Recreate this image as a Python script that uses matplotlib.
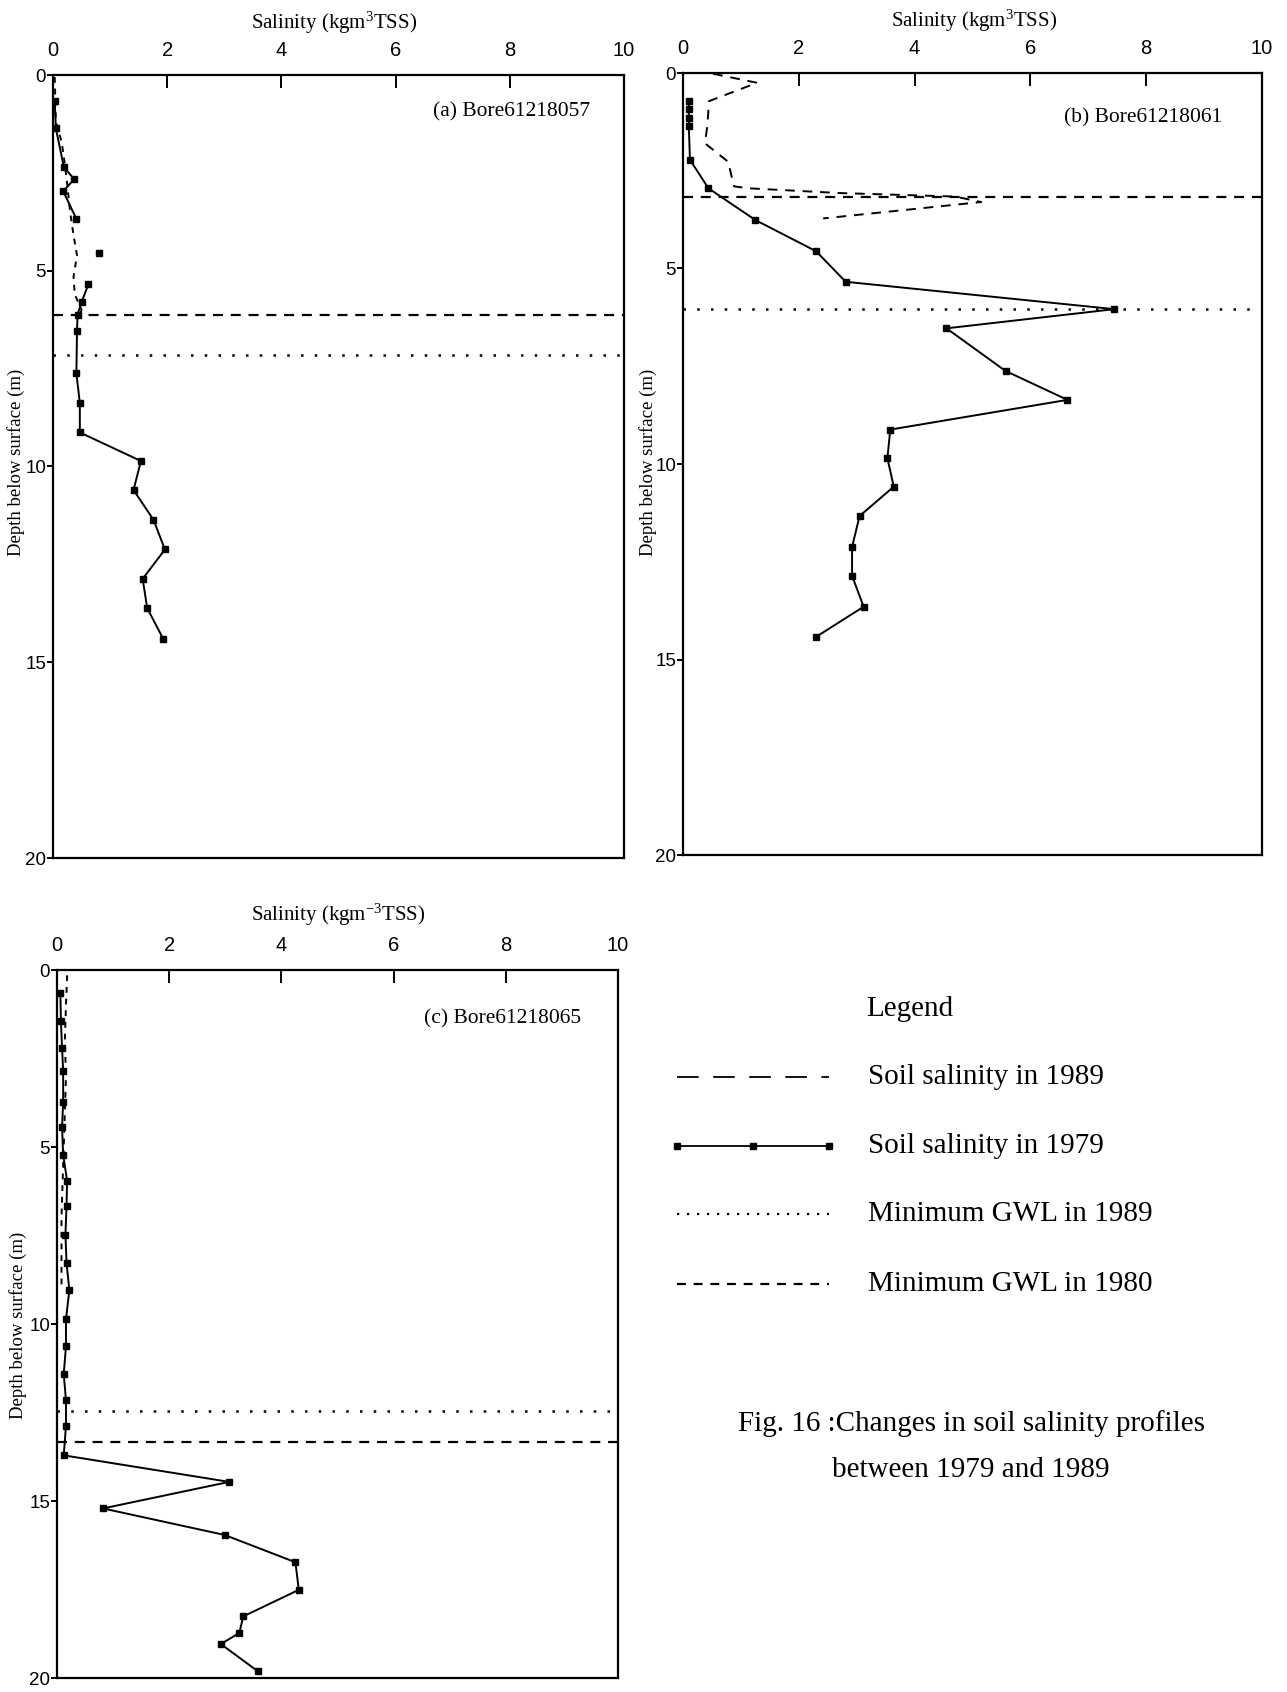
import numpy as np
import matplotlib
matplotlib.use("Agg")
import matplotlib.pyplot as plt
from matplotlib.lines import Line2D

plt.rcParams['mathtext.fontset'] = 'custom'
plt.rcParams['mathtext.rm'] = 'Liberation Serif'
plt.rcParams['mathtext.it'] = 'Liberation Serif:italic'

SERIF = 'Liberation Serif'
SANS = 'Liberation Sans'

# ---- Bore 61218057 ----
a_depth_1979 = [0.67, 1.36, 2.35, 2.66, 2.97, 3.68, 4.55, 5.35, 5.8, 6.12, 6.55, 7.62, 8.38, 9.13,
                9.86, 10.6, 11.36, 12.12, 12.87, 13.62, 14.4]
a_sal_1979 = [0.03, 0.05, 0.19, 0.37, 0.18, 0.41, 0.8, 0.62, 0.5, 0.43, 0.42, 0.41, 0.47, 0.47,
              1.54, 1.41, 1.76, 1.96, 1.57, 1.65, 1.93]
a_gap_1979 = 6          # point left unconnected in the 1979 profile
a_depth_1989 = [0.05, 0.6, 1.2, 1.7, 2.2, 2.8, 3.5, 4.1, 4.6, 5.15, 5.6, 6.0, 6.2]
a_sal_1989 = [0.03, 0.04, 0.05, 0.15, 0.2, 0.25, 0.3, 0.36, 0.42, 0.36, 0.38, 0.5, 0.45]
a_gwl_1989 = 7.15
a_gwl_1980 = 6.12

# ---- Bore 61218061 ----
b_depth_1979 = [0.72, 0.93, 1.14, 1.35, 2.22, 2.95, 3.76, 4.56, 5.34, 6.04, 6.53, 7.62, 8.36,
                9.12, 9.85, 10.58, 11.33, 12.12, 12.86, 13.65, 14.42]
b_sal_1979 = [0.1, 0.1, 0.1, 0.1, 0.12, 0.44, 1.25, 2.3, 2.81, 7.45, 4.55, 5.57, 6.64,
              3.58, 3.53, 3.64, 3.05, 2.92, 2.92, 3.12, 2.3]
b_depth_1989 = [0.02, 0.25, 0.72, 1.35, 1.8, 2.27, 2.9, 2.95, 3.07, 3.16, 3.3, 3.72]
b_sal_1989 = [0.52, 1.28, 0.45, 0.42, 0.38, 0.78, 0.88, 1.15, 2.7, 4.7, 5.15, 2.42]
b_gwl_1989 = 6.03
b_gwl_1980 = 3.18

# ---- Bore 61218065 ----
c_depth_1979 = [0.65, 1.45, 2.2, 2.85, 3.74, 4.44, 5.23, 5.95, 6.68, 7.48, 8.27, 9.05, 9.86,
                10.63, 11.41, 12.16, 12.88, 13.71, 14.46, 15.21, 15.96, 16.73, 17.51, 18.26,
                18.73, 19.04, 19.81]
c_sal_1979 = [0.06, 0.07, 0.09, 0.11, 0.11, 0.09, 0.11, 0.18, 0.17, 0.15, 0.17, 0.22, 0.16,
              0.16, 0.12, 0.16, 0.16, 0.12, 3.07, 0.82, 2.99, 4.25, 4.31, 3.32,
              3.25, 2.92, 3.58]
c_depth_1989 = [0.15, 1.0, 2.0, 3.0, 4.0, 5.0, 6.0, 7.0, 8.0, 9.0]
c_sal_1989 = [0.18, 0.16, 0.14, 0.16, 0.14, 0.12, 0.1, 0.08, 0.08, 0.08]
c_gwl_1989 = 12.45
c_gwl_1980 = 13.33

x_ticks = [0, 2, 4, 6, 8, 10]
y_ticks = [0, 5, 10, 15, 20]

W, H = 1287, 1692
fig = plt.figure(figsize=(W / 100, H / 100), dpi=100)


def rect(l, t, r, b):
    return [l / W, 1 - b / H, (r - l) / W, (b - t) / H]


def fx(x):
    return x / W


def fy(y):
    return 1 - y / H


panels = [
    dict(rect=rect(53, 75, 624, 858), d79=a_depth_1979, s79=a_sal_1979, gap=a_gap_1979,
         d89=a_depth_1989, s89=a_sal_1989, g89=a_gwl_1989, g80=a_gwl_1980,
         dash89=(0, (3, 3)), tag='(a) Bore61218057', tag_xy=(590, 112),
         xlabel=r'Salinity (kgm$^{3}$TSS)', xlabel_xy=(334, 23), ylabel_xy=(16, 462)),
    dict(rect=rect(683, 73, 1262, 855), d79=b_depth_1979, s79=b_sal_1979, gap=None,
         d89=b_depth_1989, s89=b_sal_1989, g89=b_gwl_1989, g80=b_gwl_1980,
         dash89=(0, (5, 4)), tag='(b) Bore61218061', tag_xy=(1222, 118),
         xlabel=r'Salinity (kgm$^{3}$TSS)', xlabel_xy=(974, 21), ylabel_xy=(648, 462)),
    dict(rect=rect(57, 970, 618, 1678), d79=c_depth_1979, s79=c_sal_1979, gap=None,
         d89=c_depth_1989, s89=c_sal_1989, g89=c_gwl_1989, g80=c_gwl_1980,
         dash89=(0, (3, 3)), tag='(c) Bore61218065', tag_xy=(581, 1019),
         xlabel=r'Salinity (kgm$^{-3}$TSS)', xlabel_xy=(338, 915), ylabel_xy=(18, 1325)),
]

for p in panels:
    ax = fig.add_axes(p['rect'])
    ax.set_xlim(0, 10)
    ax.set_ylim(20, 0)
    ax.xaxis.tick_top()
    ax.set_xticks(x_ticks)
    ax.set_yticks(y_ticks)
    ax.set_xticklabels([str(v) for v in x_ticks], fontfamily=SANS, fontsize=14.5)
    ax.set_yticklabels([str(v) for v in y_ticks], fontfamily=SANS, fontsize=13.5)
    ax.tick_params(axis='x', direction='in', length=9, width=1.4, pad=11)
    ax.tick_params(axis='y', direction='out', length=4, width=1.4, pad=1)
    for s in ax.spines.values():
        s.set_linewidth(1.6)

    # groundwater levels
    ax.axhline(p['g80'], color='black', lw=1.6, ls=(0, (4.5, 3.5)))
    ax.axhline(p['g89'], color='black', lw=1.8, ls=(0, (1, 4.5)))

    # 1989 profile
    ax.plot(p['s89'], p['d89'], color='black', lw=1.4, ls=p['dash89'])

    # 1979 profile
    s79 = np.array(p['s79'], dtype=float)
    d79 = np.array(p['d79'], dtype=float)
    if p['gap'] is not None:
        i = p['gap']
        ls_s = np.concatenate([s79[:i], [np.nan], s79[i + 1:]])
        ls_d = np.concatenate([d79[:i], [np.nan], d79[i + 1:]])
    else:
        ls_s, ls_d = s79, d79
    ax.plot(ls_s, ls_d, color='black', lw=1.4)
    ax.plot(s79, d79, ls='none', marker='s', ms=4.5, color='black')

    tx, ty = p['tag_xy']
    fig.text(fx(tx), fy(ty), p['tag'], ha='right', va='center', fontfamily=SERIF, fontsize=15.5)
    lx, ly = p['xlabel_xy']
    fig.text(fx(lx), fy(ly), p['xlabel'], ha='center', va='center', fontfamily=SERIF, fontsize=15)
    yx, yy = p['ylabel_xy']
    fig.text(fx(yx), fy(yy), 'Depth below surface (m)', ha='center', va='center',
             rotation=90, fontfamily=SERIF, fontsize=13.5)

# legend block
fig.text(fx(866), fy(1009), 'Legend', ha='left', va='center', fontfamily=SERIF, fontsize=21)
legend_rows = [
    ('Soil salinity in 1989', dict(ls=(0, (12, 8)), lw=1.3), 1077),
    ('Soil salinity in 1979', dict(ls='-', lw=1.3, marker='s', ms=4, markevery=[0, 1, 2]), 1146),
    ('Minimum GWL in 1989', dict(ls=(0, (1, 3.5)), lw=1.6), 1214),
    ('Minimum GWL in 1980', dict(ls=(0, (4, 3.5)), lw=1.6), 1284),
]
for label, style, y in legend_rows:
    if 'markevery' in style:
        xs = [fx(677), fx(753), fx(829)]
        ys = [fy(y)] * 3
    else:
        xs = [fx(677), fx(829)]
        ys = [fy(y)] * 2
    fig.add_artist(Line2D(xs, ys, color='black', transform=fig.transFigure, **style))
    fig.text(fx(868), fy(y), label, ha='left', va='center', fontfamily=SERIF, fontsize=21)

fig.text(fx(971), fy(1424), 'Fig. 16 :Changes in soil salinity profiles', ha='center',
         va='center', fontfamily=SERIF, fontsize=21)
fig.text(fx(971), fy(1470), 'between 1979 and 1989', ha='center', va='center',
         fontfamily=SERIF, fontsize=21)

fig.savefig('out.png', dpi=100)
